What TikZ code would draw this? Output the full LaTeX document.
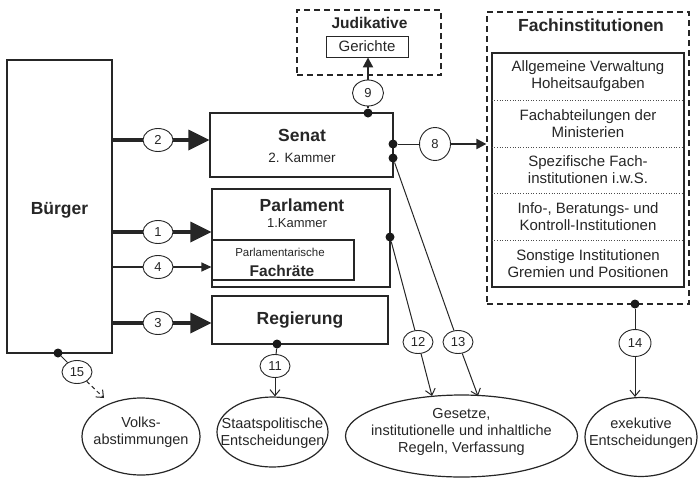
\documentclass[tikz,border=0pt]{standalone}
\usepackage{fontspec}
\setmainfont{Liberation Sans}
\usetikzlibrary{arrows.meta,shapes.geometric}
\tikzset{
 rbox/.style={draw=black!85, line width=1.1pt, rectangle, inner sep=0pt},
 num/.style={ellipse, draw=black!85, line width=0.9pt, fill=white, inner sep=0pt, minimum width=30pt, minimum height=23pt, text=black!85, font=\fontsize{13}{13}\selectfont},
 dotn/.style={circle, fill=black!90, inner sep=0pt, minimum size=9pt},
 ttl/.style={text=black!85, inner sep=0pt, font=\fontsize{17.5}{20}\selectfont\bfseries},
 txt/.style={text=black!85, inner sep=0pt, font=\fontsize{14.5}{17}\selectfont, align=center},
 bigline/.style={draw=black!85, line width=3.5pt},
 bigarrow/.style={bigline, -{Triangle[length=21pt,width=20pt]}},
 thinline/.style={draw=black!85, line width=1pt},
 openarrow/.style={thinline, -{Straight Barb[length=6pt,width=10pt]}},
 medarrow/.style={draw=black!85, line width=2pt, -{Triangle[length=10pt,width=10pt]}},
 smallarrow/.style={draw=black!85, line width=1.2pt, -{Triangle[length=10pt,width=9pt]}},
 dbox/.style={draw=black!85, line width=1.2pt, dash pattern=on 6pt off 4pt, rectangle, inner sep=0pt},
 oval/.style={ellipse, draw=black!85, line width=1.2pt, inner sep=0pt},
 rowbox/.style={rectangle, inner sep=0pt, minimum width=192pt, minimum height=46.8pt, text=black!85, font=\fontsize{15}{17}\selectfont, align=center},
}
\begin{document}
\begin{tikzpicture}[x=1pt,y=-1pt]
\useasboundingbox (0,0) rectangle (698,477);

% main boxes
\node[rbox, minimum width=105pt, minimum height=293pt] (burger) at (59.5,206.5) {};
\node[ttl] (burgerT) at (59.5,210) {Bürger};

\node[rbox, minimum width=183pt, minimum height=64pt] (senat) at (301.5,145) {};
\node[ttl] (senatT) at (302,135) {Senat};
\node[txt, font=\fontsize{13.5}{15}\selectfont] (senatK) at (302,158) {2. Kammer};

\node[rbox, minimum width=178pt, minimum height=98pt] (parl) at (301,238) {};
\node[ttl] (parlT) at (302,205) {Parlament};
\node[txt, font=\fontsize{13}{15}\selectfont] (parlK) at (297,223) {1.Kammer};
\node[rbox, minimum width=142pt, minimum height=40pt] (fr) at (283,260) {};
\node[txt, font=\fontsize{11.5}{13}\selectfont] (frA) at (280,252.5) {Parlamentarische};
\node[ttl, font=\fontsize{15.5}{17}\selectfont\bfseries] (frB) at (282,271) {Fachräte};

\node[rbox, minimum width=176pt, minimum height=48pt] (reg) at (300,320) {};
\node[ttl] (regT) at (300,320) {Regierung};

% Judikative
\node[dbox, minimum width=144pt, minimum height=65pt] (jud) at (369,42.5) {};
\node[ttl, font=\fontsize{15.5}{17}\selectfont\bfseries] (judT) at (369.5,23) {Judikative};
\node[rbox, line width=0.9pt, minimum width=82pt, minimum height=21pt, text=black!85, font=\fontsize{15}{17}\selectfont] (ger) at (367,46.5) {Gerichte};

% Fachinstitutionen
\node[dbox, minimum width=202pt, minimum height=292pt] (fach) at (588,158) {};
\node[ttl] (fachT) at (591,25) {Fachinstitutionen};
\node[rowbox] (r1) at (588,76.4) {Allgemeine Verwaltung\\Hoheitsaufgaben};
\node[rowbox] (r2) at (588,123.2) {Fachabteilungen der\\Ministerien};
\node[rowbox] (r3) at (588,170) {Spezifische Fach-\\institutionen i.w.S.};
\node[rowbox] (r4) at (588,216.8) {Info-, Beratungs- und\\Kontroll-Institutionen};
\node[rowbox] (r5) at (588,263.6) {Sonstige Institutionen\\Gremien und Positionen};
\node[rbox, line width=2pt, minimum width=192pt, minimum height=234pt] (inner) at (588,170) {};
\foreach \a/\b in {r1/r2,r2/r3,r3/r4,r4/r5}
  \draw[black!70, line width=0.6pt, dotted] (\a.south west) -- (\a.south east);

% result ovals
\node[oval, minimum width=118pt, minimum height=77pt] (volk) at (141,436.5) {};
\node[txt] (volkT) at (141,432) {Volks-\\abstimmungen};
\node[oval, minimum width=111pt, minimum height=70pt] (staat) at (272.5,432) {};
\node[txt] (staatT) at (272.5,433) {Staatspolitische\\Entscheidungen};
\node[oval, minimum width=232pt, minimum height=82pt] (ges) at (461.5,436) {};
\node[txt] (gesT) at (461.5,432) {Gesetze,\\institutionelle und inhaltliche\\Regeln, Verfassung};
\node[oval, minimum width=112pt, minimum height=79pt] (exe) at (641,437) {};
\node[txt] (exeT) at (641,433) {exekutive\\Entscheidungen};

% dots
\node[dotn] (dB) at (58,353) {};
\node[dotn] (dR) at (277,344) {};
\node[dotn] (dP) at (390,237) {};
\node[dotn] (dS8) at (393,144) {};
\node[dotn] (dS13) at (393,158) {};
\node[dotn] (dS9) at (368,113) {};
\node[dotn] (dF) at (635,304) {};

% target coordinates
\coordinate (g12) at (432,396);
\coordinate (g13) at (478,396);
\coordinate (v15) at (104,398);

% number circles
\node[num] (c2) at (158,140) {2};
\node[num] (c1) at (158,232) {1};
\node[num] (c4) at (158,267) {4};
\node[num] (c3) at (158,323) {3};
\node[num, minimum width=31pt, minimum height=26pt] (c9) at (368,93) {9};
\node[num, minimum width=31pt, minimum height=33pt] (c8) at (435,144) {8};
\node[num] (c15) at (77,372) {15};
\node[num] (c11) at (275,366) {11};
\node[num] (c12) at (418,342) {12};
\node[num] (c13) at (458,342) {13};
\node[num, minimum width=32pt, minimum height=27pt] (c14) at (635,343) {14};

% connectors from Bürger
\draw[bigline] (burger.east |- c2) -- (c2);
\draw[bigarrow] (c2) -- (c2 -| senat.west);
\draw[bigline] (burger.east |- c1) -- (c1);
\draw[bigarrow] (c1) -- (c1 -| parl.west);
\draw[thinline, line width=1.2pt] (burger.east |- c4) -- (c4);
\draw[smallarrow] (c4) -- (c4 -| fr.west);
\draw[bigline] (burger.east |- c3) -- (c3);
\draw[bigarrow] (c3) -- (c3 -| reg.west);

% Senat connectors
\draw[medarrow, -] (dS9) -- (c9);
\draw[medarrow] (c9) -- (c9 |- ger.south);
\draw[thinline] (dS8) -- (c8);
\draw[medarrow] (c8) -- (c8 -| fach.west);
\draw[thinline] (dS13) -- (c13);
\draw[openarrow] (c13) -- (g13);

% Parlament
\draw[thinline] (dP) -- (c12);
\draw[openarrow] (c12) -- (g12);

% Regierung
\draw[thinline] (dR) -- (c11);
\draw[openarrow] (c11) -- (c11 |- staat.north);

% Bürger to Volksabstimmungen
\draw[thinline] (dB) -- (c15);
\draw[openarrow, dash pattern=on 4pt off 3pt] (c15) -- (v15);

% Fachinstitutionen
\draw[thinline] (dF) -- (c14);
\draw[openarrow] (c14) -- (c14 |- exe.north);
\end{tikzpicture}
\end{document}
